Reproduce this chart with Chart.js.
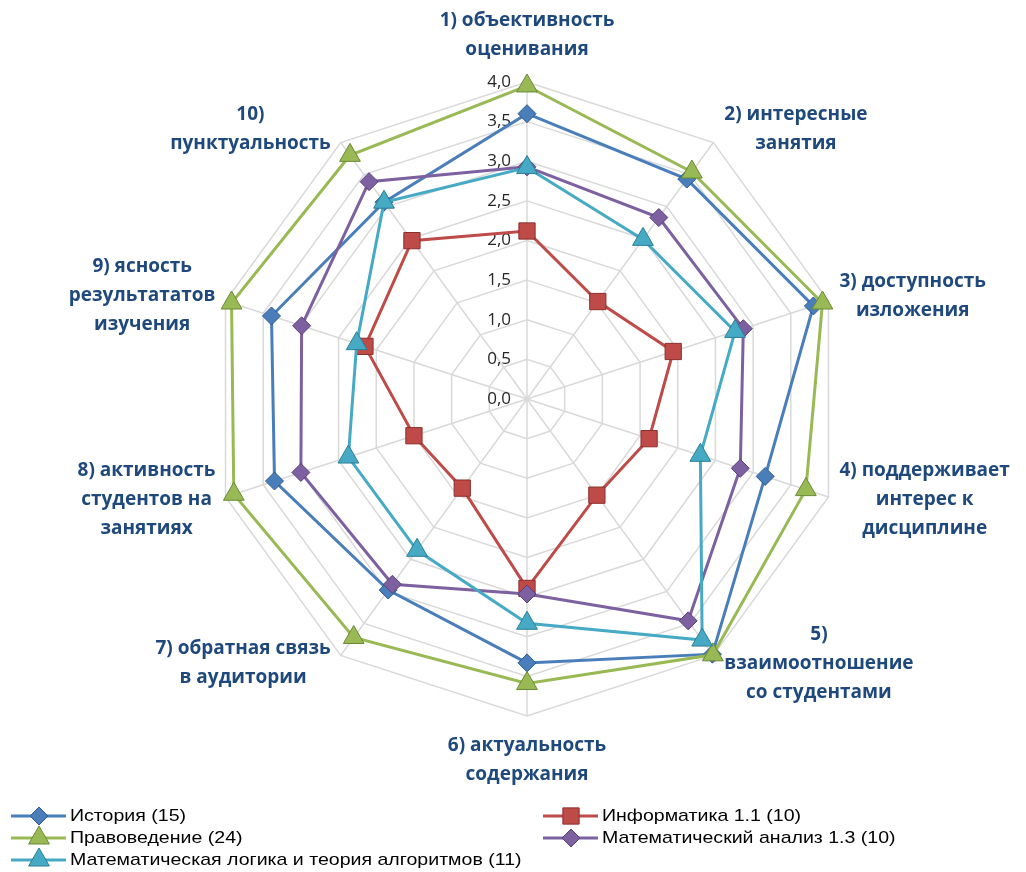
<!DOCTYPE html>
<html>
<head>
<meta charset="utf-8">
<script src="https://cdn.jsdelivr.net/npm/chart.js@4.4.1/dist/chart.umd.min.js"></script>
<style>
  html, body { margin: 0; padding: 0; background: #fff; }
  #wrap { width: 1026px; height: 872px; }
</style>
</head>
<body>
<div id="wrap"><canvas id="radar" width="1026" height="872"></canvas></div>
<script>
// axes of the radar (multi-line labels)
const categories = [
  ['1) объективность', 'оценивания'],
  ['2) интересные', 'занятия'],
  ['3) доступность', 'изложения'],
  ['4) поддерживает', 'интерес к', 'дисциплине'],
  ['5)', 'взаимоотношение', 'со студентами'],
  ['6) актуальность', 'содержания'],
  ['7) обратная связь', 'в аудитории'],
  ['8) активность', 'студентов на', 'занятиях'],
  ['9) ясность', 'результататов', 'изучения'],
  ['10)', 'пунктуальность'],
];

const tickValues = [0, 0.5, 1, 1.5, 2, 2.5, 3, 3.5, 4];
const tickLabels = ['0,0', '0,5', '1,0', '1,5', '2,0', '2,5', '3,0', '3,5', '4,0'];

const seriesNames = [
  'История (15)',
  'Информатика 1.1 (10)',
  'Правоведение (24)',
  'Математический анализ 1.3 (10)',
  'Математическая логика и теория алгоритмов (11)',
];

const istoriya     = [3.60, 3.43, 3.80, 3.16, 3.98, 3.33, 2.98, 3.35, 3.39, 3.07];
const informatika  = [2.12, 1.52, 1.94, 1.62, 1.50, 2.39, 1.39, 1.50, 2.15, 2.47];
const pravovedenie = [3.95, 3.54, 3.92, 3.70, 3.99, 3.59, 3.72, 3.89, 3.92, 3.80];
const matAnaliz    = [2.93, 2.83, 2.87, 2.83, 3.46, 2.46, 2.89, 3.00, 2.99, 3.39];
const matLogika    = [2.92, 2.49, 2.76, 2.30, 3.76, 2.83, 2.36, 2.37, 2.26, 3.07];

const seriesData = [istoriya, informatika, pravovedenie, matAnaliz, matLogika];
const lineColors = ['#4a7ebb', '#be4b48', '#98b954', '#7d60a0', '#46aac5'];
const edgeColors = ['#2c5a8f', '#8c2f2d', '#6a8a34', '#5a3f7a', '#2a7f97'];
const markers = ['rectRot', 'rect', 'triangle', 'rectRot', 'triangle'];
const markerSize = { rectRot: 9, rect: 11.5, triangle: 12 };

const labelFont = 'bold 19px "Open Sans", sans-serif';
const labelColor = '#1f497d';

const drawMarker = (ctx, style, x, y, i) => {
  ctx.save();
  ctx.fillStyle = lineColors[i];
  ctx.strokeStyle = edgeColors[i];
  ctx.lineWidth = 1;
  Chart.helpers.drawPoint(ctx, { pointStyle: style, radius: markerSize[style], borderWidth: 1, rotation: 0 }, x, y);
  ctx.restore();
};

const excelLabels = {
  id: 'excelLabels',
  beforeDatasetsDraw(chart) {
    const s = chart.scales.r;
    const ctx = chart.ctx;
    ctx.save();
    ctx.font = '17px "Open Sans", sans-serif';
    ctx.fillStyle = '#262626';
    ctx.textAlign = 'right';
    ctx.textBaseline = 'middle';
    tickValues.forEach((v, i) => {
      ctx.fillText(tickLabels[i], s.xCenter - 16, s.yCenter - s.getDistanceFromCenterForValue(v));
    });
    ctx.restore();
  },
  afterDraw(chart) {
    const s = chart.scales.r;
    const ctx = chart.ctx;
    ctx.save();
    ctx.font = labelFont;
    ctx.fillStyle = labelColor;
    ctx.textAlign = 'center';
    ctx.textBaseline = 'middle';
    const lh = 29;
    chart.data.labels.forEach((lines, i) => {
      const a = s.getIndexAngle(i);
      const p = s.getPointPosition(i, s.drawingArea);
      const sin = Math.sin(a);
      const cos = Math.cos(a);
      const w = Math.max(...lines.map((t) => ctx.measureText(t).width));
      const h = lines.length * lh;
      let cx = p.x;
      let cy;
      if (sin > 0.1) cx = p.x + 11 + w / 2;
      else if (sin < -0.1) cx = p.x - 10 - w / 2;
      if (Math.abs(sin) <= 0.1) {
        cy = cos > 0 ? p.y - 18 - h / 2 : p.y + 15 + h / 2;
      } else {
        cy = p.y - cos * (cos > 0 ? 17 : 10);
      }
      lines.forEach((t, k) => {
        ctx.fillText(t, cx, cy - h / 2 + lh / 2 + k * lh);
      });
    });
    ctx.restore();

    // legend, two columns, row-major like the original
    ctx.save();
    ctx.font = '17px "Liberation Sans", Arial, sans-serif';
    ctx.fillStyle = '#000';
    ctx.textAlign = 'left';
    ctx.textBaseline = 'middle';
    const colX = [11, 543];
    const rowY = [816, 838, 860];
    seriesNames.forEach((name, i) => {
      const x0 = colX[i % 2];
      const y = rowY[Math.floor(i / 2)];
      ctx.strokeStyle = lineColors[i];
      ctx.lineWidth = 3;
      ctx.beginPath();
      ctx.moveTo(x0, y);
      ctx.lineTo(x0 + 55, y);
      ctx.stroke();
      drawMarker(ctx, markers[i], x0 + 28, y, i);
      ctx.save();
      ctx.translate(x0 + 59, y);
      ctx.scale(1.15, 1);
      ctx.fillText(name, 0, 0);
      ctx.restore();
    });
    ctx.restore();
  },
};

const datasets = seriesNames.map((name, i) => ({
  label: name,
  data: seriesData[i],
  order: seriesNames.length - i,
  borderColor: lineColors[i],
  borderWidth: 3,
  fill: false,
  pointStyle: markers[i],
  pointRadius: markerSize[markers[i]],
  pointBackgroundColor: lineColors[i],
  pointBorderColor: edgeColors[i],
  pointBorderWidth: 1,
}));

new Chart(document.getElementById('radar'), {
  type: 'radar',
  data: { labels: categories, datasets },
  options: {
    responsive: false,
    animation: false,
    layout: { padding: { left: 210, right: 182, top: 82, bottom: 156 } },
    plugins: { legend: { display: false }, tooltip: { enabled: false } },
    elements: { line: { tension: 0 } },
    scales: {
      r: {
        min: 0,
        max: 4,
        ticks: { stepSize: 0.5, display: false },
        grid: { color: '#d9d9d9', lineWidth: 1.5 },
        angleLines: { color: '#d9d9d9', lineWidth: 1.5 },
        pointLabels: { display: false },
      },
    },
  },
  plugins: [excelLabels],
});
</script>
</body>
</html>
